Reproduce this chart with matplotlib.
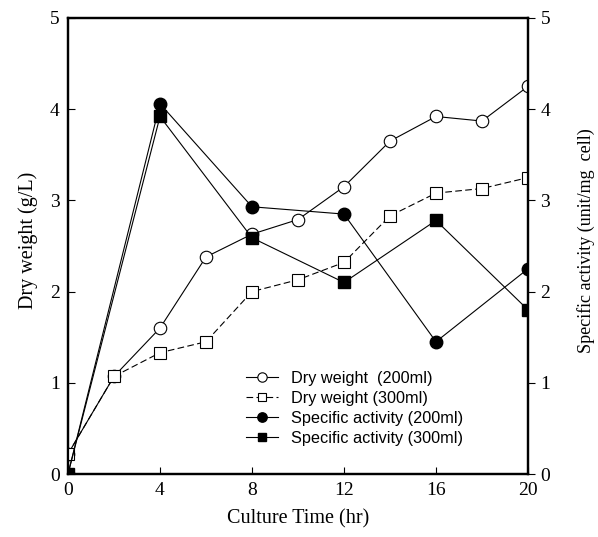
import matplotlib

matplotlib.use("Agg")
import matplotlib.pyplot as plt

# culture time points (hr)
time_dw = [0, 2, 4, 6, 8, 10, 12, 14, 16, 18, 20]
time_sa = [0, 4, 8, 12, 16, 20]

# dry weight (g/L)
dw_200 = [0.22, 1.07, 1.60, 2.38, 2.63, 2.79, 3.15, 3.65, 3.92, 3.87, 4.25]
dw_300 = [0.22, 1.07, 1.33, 1.45, 2.00, 2.13, 2.32, 2.83, 3.08, 3.13, 3.25]

# specific activity (unit/mg cell)
sa_200 = [0.0, 4.06, 2.93, 2.85, 1.45, 2.25]
sa_300 = [0.0, 3.92, 2.59, 2.10, 2.78, 1.80]

xticks = [0, 4, 8, 12, 16, 20]
yticks = [0, 1, 2, 3, 4, 5]

SERIF = "Liberation Serif"
SANS = "Liberation Sans"

fig = plt.figure(figsize=(5.98, 5.37), dpi=100)
ax1 = fig.add_axes([0.1137, 0.1173, 0.7692, 0.8492])
ax2 = ax1.twinx()

ax1.plot(time_dw, dw_200, color="black", lw=0.8, marker="o", ms=9,
         mfc="white", mec="black", mew=0.8, label="Dry weight  (200ml)", zorder=3)
ax1.plot(time_dw, dw_300, color="black", lw=0.8, ls=(0, (6, 3)), marker="s", ms=8,
         mfc="white", mec="black", mew=0.8, label="Dry weight (300ml)", zorder=3)
ax2.plot(time_sa, sa_200, color="black", lw=0.8, marker="o", ms=9,
         mfc="black", mec="black", label="Specific activity (200ml)", zorder=4)
ax2.plot(time_sa, sa_300, color="black", lw=0.8, marker="s", ms=8,
         mfc="black", mec="black", label="Specific activity (300ml)", zorder=4)

for ax in (ax1, ax2):
    ax.set_xlim(0, 20)
    ax.set_ylim(0, 5)
    ax.set_yticks(yticks)
    for sp in ax.spines.values():
        sp.set_linewidth(1.6)

ax1.set_xticks(xticks)
ax1.tick_params(axis="x", direction="in", length=5, width=0.8, pad=6)
ax1.tick_params(axis="y", direction="in", length=5, width=0.8, pad=6)
ax2.tick_params(axis="y", direction="out", length=5, width=0.8, pad=4)

for lab in ax1.get_xticklabels() + ax1.get_yticklabels() + ax2.get_yticklabels():
    lab.set_fontfamily(SERIF)
    lab.set_fontsize(14)

ax1.set_xlabel("Culture Time (hr)", fontfamily=SERIF, fontsize=14.5, labelpad=7)
ax1.set_ylabel("Dry weight (g/L)", fontfamily=SERIF, fontsize=14.5)
ax2.set_ylabel("Specific activity (unit/mg  cell)", fontfamily=SERIF, fontsize=13)
ax1.yaxis.set_label_coords(-0.066, 0.513)
ax2.yaxis.set_label_coords(1.107, 0.511)

h1, l1 = ax1.get_legend_handles_labels()
h2, l2 = ax2.get_legend_handles_labels()
ax2.legend(h1 + h2, l1 + l2, loc="lower left", bbox_to_anchor=(0.355, 0.03),
           frameon=False, prop={"family": SANS, "size": 11.7},
           handlelength=2.0, handletextpad=0.8, labelspacing=0.31, markerscale=0.75)

fig.savefig("out.png", dpi=100)
